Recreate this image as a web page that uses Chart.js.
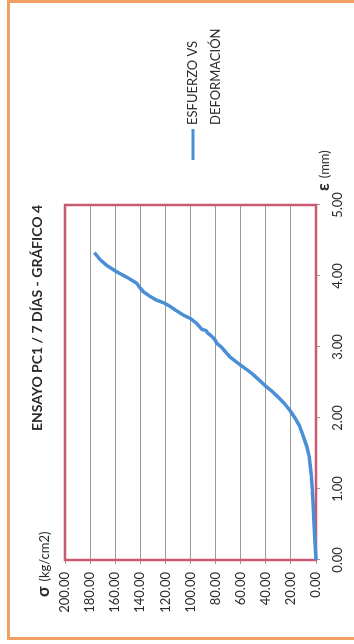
<!DOCTYPE html>
<html>
<head>
<meta charset="utf-8">
<script src="https://cdn.jsdelivr.net/npm/chart.js@4.4.1/dist/chart.umd.min.js"></script>
<style>
  html, body { margin: 0; padding: 0; background: #fff; width: 354px; height: 644px; overflow: hidden; }
  /* the chart is laid out landscape and turned a quarter turn counter-clockwise */
  #giro { position: absolute; left: 0; top: 0; width: 644px; height: 354px;
          transform-origin: 0 0; transform: translate(0, 644px) rotate(-90deg); }
  canvas { display: block; }
</style>
</head>
<body>
<div id="giro"><canvas id="grafico" width="644" height="354"></canvas></div>
<script>
// Deformación (mm) y esfuerzo (kg/cm2) del ensayo PC1 a 7 días
const deformacionMm = [
  0.00, 0.25, 0.52, 0.75, 1.00, 1.20, 1.45, 1.60, 1.78, 1.90,
  2.00, 2.10, 2.21, 2.30, 2.39, 2.44, 2.53, 2.61, 2.68, 2.75,
  2.86, 2.95, 3.00, 3.05, 3.10, 3.15, 3.20, 3.23, 3.25, 3.33,
  3.40, 3.45, 3.52, 3.58, 3.62, 3.66, 3.71, 3.78, 3.84, 3.90,
  3.97, 4.06, 4.15, 4.20, 4.23, 4.33
];
const esfuerzoKgCm2 = [
  0.0, 0.8, 1.6, 2.2, 2.9, 3.8, 5.3, 7.4, 10.9, 13.5,
  16.7, 20.5, 25.5, 30.5, 36.0, 39.5, 45.0, 50.0, 55.0, 60.6,
  68.5, 73.0, 75.5, 79.0, 80.5, 83.0, 86.5, 87.5, 91.0, 95.0,
  100.0, 105.7, 112.0, 117.0, 121.0, 127.0, 132.0, 137.6, 140.5, 143.0,
  149.5, 158.8, 166.8, 170.0, 172.0, 176.6
];

// Marcas de los ejes
const ticksDeformacion = [0, 1, 2, 3, 4, 5];
const ticksEsfuerzo = [0, 20, 40, 60, 80, 100, 120, 140, 160, 180, 200];

// Textos
const tituloGrafico = 'ENSAYO PC1 / 7 DÍAS - GRÁFICO 4';
const simboloEsfuerzo = 'σ';
const unidadEsfuerzo = '(kg/cm2)';
const simboloDeformacion = 'ε';
const unidadDeformacion = '(mm)';
const leyendaSerie = ['ESFUERZO VS', 'DEFORMACIÓN'];

const AZUL = '#4a8fd6';
const FUENTE = 'Lato, "Liberation Sans", sans-serif';
const TEXTO = '#2b2b2b';

const puntos = deformacionMm.map((d, i) => ({ x: d, y: esfuerzoKgCm2[i] }));

// Marco naranja, marco rojo del área de trazado, títulos y leyenda
const decoracion = {
  id: 'decoracion',
  beforeDraw(chart) {
    const ctx = chart.ctx;
    ctx.save();
    ctx.fillStyle = '#fff';
    ctx.fillRect(0, 0, chart.width, chart.height);
    ctx.strokeStyle = '#f4a065';
    ctx.lineWidth = 3;
    ctx.strokeRect(5.5, 8.5, 637, 360);
    ctx.restore();
  },
  beforeDatasetsDraw(chart) {
    const { ctx, chartArea: a } = chart;
    ctx.save();
    ctx.strokeStyle = '#c95a72';
    ctx.lineWidth = 2.5;
    ctx.strokeRect(a.left, a.top, a.right - a.left, a.bottom - a.top);
    ctx.restore();
  },
  afterDraw(chart) {
    const ctx = chart.ctx;
    ctx.save();
    ctx.fillStyle = TEXTO;
    ctx.textBaseline = 'middle';

    // título
    ctx.font = 'bold 14px ' + FUENTE;
    ctx.textAlign = 'center';
    ctx.fillText(tituloGrafico, 326, 37);

    // título del eje de esfuerzos
    ctx.textAlign = 'left';
    ctx.font = 'bold 17px ' + FUENTE;
    ctx.fillText(simboloEsfuerzo, 47, 44);
    let w = ctx.measureText(simboloEsfuerzo).width;
    ctx.font = '13px ' + FUENTE;
    ctx.fillText(unidadEsfuerzo, 47 + w + 5, 45);

    // título del eje de deformaciones
    ctx.font = 'bold 17px ' + FUENTE;
    ctx.fillText(simboloDeformacion, 453, 324);
    w = ctx.measureText(simboloDeformacion).width;
    ctx.font = '13px ' + FUENTE;
    ctx.fillText(unidadDeformacion, 453 + w + 5, 325);

    // leyenda
    ctx.strokeStyle = AZUL;
    ctx.lineWidth = 3;
    ctx.beginPath();
    ctx.moveTo(484, 193);
    ctx.lineTo(515, 193);
    ctx.stroke();
    ctx.font = '13px ' + FUENTE;
    ctx.fillText(leyendaSerie[0], 519, 193);
    ctx.fillText(leyendaSerie[1], 519, 216);
    ctx.restore();
  }
};

new Chart(document.getElementById('grafico'), {
  type: 'scatter',
  data: {
    datasets: [{
      label: leyendaSerie.join(' '),
      data: puntos,
      showLine: true,
      borderColor: AZUL,
      borderWidth: 3.5,
      pointRadius: 0,
      tension: 0,
      clip: 6
    }]
  },
  options: {
    responsive: false,
    animation: false,
    devicePixelRatio: 1,
    layout: { padding: { top: 65, right: 205, bottom: 0, left: 0 } },
    plugins: { legend: { display: false }, title: { display: false }, tooltip: { enabled: false } },
    scales: {
      x: {
        type: 'linear',
        min: 0, max: 5,
        afterBuildTicks(scale) { scale.ticks = ticksDeformacion.map(v => ({ value: v })); },
        afterFit(scale) { scale.height = 38; },
        border: { display: false },
        grid: { drawOnChartArea: false, drawTicks: true, tickLength: 4, tickColor: '#9a9a9a' },
        ticks: {
          padding: 10,
          color: TEXTO,
          font: { family: FUENTE, size: 13 },
          maxRotation: 0,
          callback: v => v.toFixed(2)
        }
      },
      y: {
        type: 'linear',
        min: 0, max: 200,
        afterBuildTicks(scale) { scale.ticks = ticksEsfuerzo.map(v => ({ value: v })); },
        afterFit(scale) { scale.width = 84; },
        border: { display: false },
        grid: { color: '#9a9a9a', lineWidth: 1, drawTicks: true, tickLength: 4, tickColor: '#9a9a9a' },
        ticks: {
          padding: 8,
          color: TEXTO,
          font: { family: FUENTE, size: 13 },
          callback: v => v.toFixed(2)
        }
      }
    }
  },
  plugins: [decoracion]
});
</script>
</body>
</html>
